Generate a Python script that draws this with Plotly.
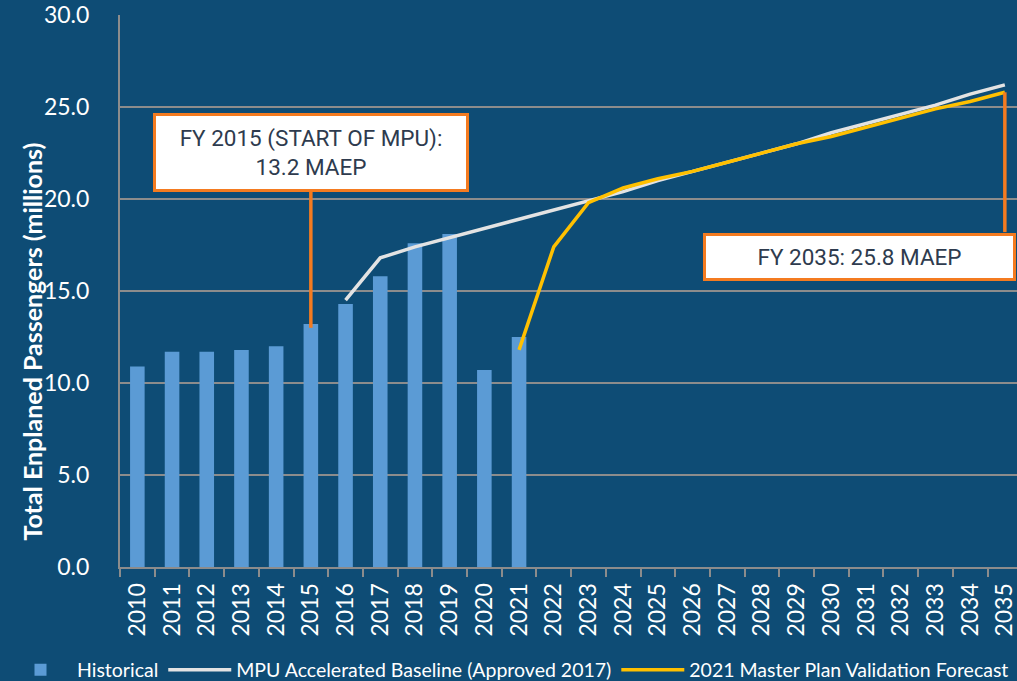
import plotly.graph_objects as go

years = [str(y) for y in range(2010, 2036)]

hist_years = [str(y) for y in range(2010, 2022)]
hist_values = [10.9, 11.7, 11.7, 11.8, 12.0, 13.2, 14.3, 15.8, 17.6, 18.1, 10.7, 12.5]

mpu_years = [str(y) for y in range(2016, 2036)]
mpu_values = [14.5, 16.8, 17.4, 17.9, 18.4, 18.9, 19.4, 19.9, 20.4, 21.0,
              21.5, 22.0, 22.5, 23.0, 23.6, 24.1, 24.6, 25.1, 25.7, 26.2]

mpv_years = [str(y) for y in range(2021, 2036)]
mpv_values = [11.8, 17.4, 19.8, 20.6, 21.1, 21.5, 22.0, 22.5, 23.0, 23.4,
              23.9, 24.4, 24.9, 25.3, 25.8]

BG = "#0E4C75"
GRID = "#8C8C8C"
ORANGE = "#F47B20"
TXT = "#2E3B4E"
TICKFONT = "Lato, Open Sans, sans-serif"
BOXFONT = "Roboto, Liberation Sans, sans-serif"

PW = 897.0   # plot area width in px (120..1017)
PH = 552.0   # plot area height in px (15..567)

fig = go.Figure()
fig.add_trace(go.Bar(x=hist_years, y=hist_values, name="Historical",
                     marker=dict(color="#5B9BD5", line=dict(width=0))))
fig.add_trace(go.Scatter(x=mpu_years, y=mpu_values, mode="lines",
                         name="MPU Accelerated Baseline (Approved 2017)",
                         line=dict(color="#E3E3E3", width=3.5)))
fig.add_trace(go.Scatter(x=mpv_years, y=mpv_values, mode="lines",
                         name="2021 Master Plan Validation Forecast",
                         line=dict(color="#FFC000", width=3.5)))

# leader lines
fig.add_shape(type="line", xref="x", yref="y", x0=5, x1=5, y0=13.0, y1=20.4,
              line=dict(color=ORANGE, width=3.5))
fig.add_shape(type="line", xref="x", yref="y", x0=25, x1=25, y0=25.8, y1=18.2,
              line=dict(color=ORANGE, width=3.5))

fig.add_annotation(x=5, y=22.53, xref="x", yref="y", showarrow=False,
                   text="FY 2015 (START OF MPU):<br>13.2 MAEP",
                   font=dict(family=BOXFONT, size=22.5, color=TXT),
                   bgcolor="white", bordercolor=ORANGE, borderwidth=3, borderpad=0,
                   width=310, height=73, align="center")
fig.add_annotation(x=20.82, y=16.85, xref="x", yref="y", showarrow=False,
                   text="FY 2035: 25.8 MAEP",
                   font=dict(family=BOXFONT, size=22.5, color=TXT),
                   bgcolor="white", bordercolor=ORANGE, borderwidth=3, borderpad=0,
                   width=307, height=42, align="center")

# y-axis title
fig.add_annotation(x=(31 - 120) / PW, y=(567 - 341.5) / PH, xref="paper", yref="paper",
                   showarrow=False, textangle=-90, xanchor="center", yanchor="middle",
                   text="<b>Total Enplaned Passengers (millions)</b>",
                   font=dict(family=TICKFONT, size=25, color="white"))

fig.update_layout(
    width=1017, height=681,
    paper_bgcolor=BG, plot_bgcolor=BG,
    margin=dict(l=120, r=0, t=15, b=114, autoexpand=False),
    bargap=0.58,
    showlegend=True,
    legend=dict(orientation="h", x=(4 - 120) / PW, xanchor="left",
                y=(567 - 670) / PH, yanchor="middle", itemwidth=63,
                font=dict(family=TICKFONT, size=19.5, color="white"),
                bgcolor="rgba(0,0,0,0)"),
    xaxis=dict(type="category", categoryorder="array", categoryarray=years,
               range=[-0.5, 25.35], tickangle=-90, tickson="boundaries",
               ticks="outside", ticklen=8, tickcolor=GRID, tickwidth=2,
               showline=True, linecolor=GRID, linewidth=2, showgrid=False,
               tickfont=dict(family=TICKFONT, size=23, color="white"),
               ticklabelstandoff=5),
    yaxis=dict(range=[0, 30], dtick=5, tickformat=".1f",
               showgrid=True, gridcolor=GRID, gridwidth=1.5,
               showline=True, linecolor=GRID, linewidth=2, zeroline=False,
               ticks="", tickfont=dict(family=TICKFONT, size=23, color="white"),
               ticklabelstandoff=24, ticklabeloverflow="allow"),
)

fig.write_html(
    "out.html",
    config={"displayModeBar": False},
    post_script=(
        "document.documentElement.style.margin='0px';"
        "document.body.style.margin='0px';"
        "document.body.style.overflow='hidden';"
        "document.documentElement.style.overflow='hidden';"
        "var gd=document.getElementsByClassName('plotly-graph-div')[0];"
        "gd.style.position='fixed';gd.style.top='0px';gd.style.left='0px';"
    ),
)
